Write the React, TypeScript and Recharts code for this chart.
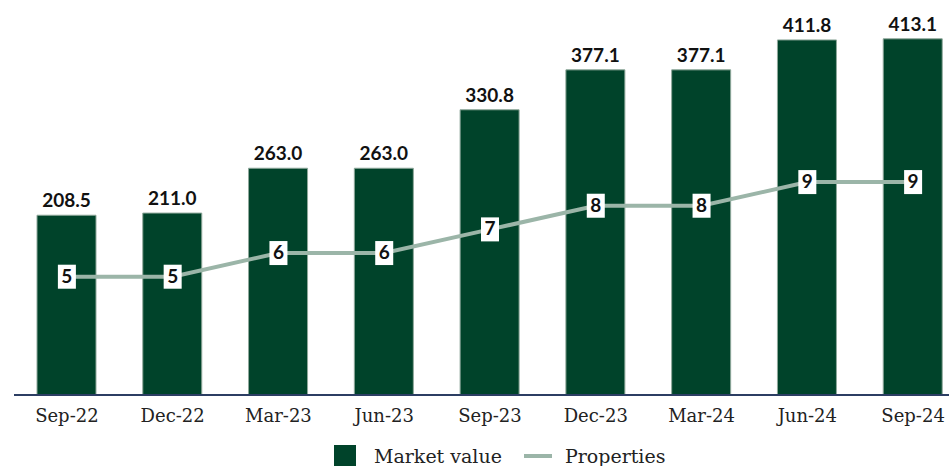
import { ComposedChart, Bar, Line, XAxis, YAxis, LabelList, Legend } from 'recharts';

const quarters = ['Sep-22', 'Dec-22', 'Mar-23', 'Jun-23', 'Sep-23', 'Dec-23', 'Mar-24', 'Jun-24', 'Sep-24'];
const marketValue = [208.5, 211.0, 263.0, 263.0, 330.8, 377.1, 377.1, 411.8, 413.1];
const properties = [5, 5, 6, 6, 7, 8, 8, 9, 9];

const data = quarters.map((q, i) => ({ q, mv: marketValue[i], props: properties[i] }));

const BAR = '#00432A';
const LINE = '#9BB5A8';
const SERIF = '"DejaVu Serif", serif';
const SANS = 'Lato, sans-serif';

function PropLabel(p: any) {
  const { x, y, value } = p;
  return (
    <g>
      <rect x={x - 9} y={y - 12} width={18} height={24} fill="#fff" />
      <text x={x} y={y + 1} textAnchor="middle" dominantBaseline="middle" fontFamily={SANS} fontWeight={700} fontSize={19} fill="#111">
        {value}
      </text>
    </g>
  );
}

function LegendBox() {
  return (
    <div style={{ display: 'flex', alignItems: 'center', paddingLeft: 320, paddingTop: 2, fontFamily: SERIF, fontSize: 19, color: '#222', height: 24 }}>
      <span style={{ width: 22, height: 22, background: BAR, display: 'inline-block', marginRight: 18 }} />
      <span style={{ marginRight: 22 }}>Market value</span>
      <span style={{ width: 28, height: 4, background: LINE, display: 'inline-block', marginRight: 13 }} />
      <span>Properties</span>
    </div>
  );
}

export default function App() {
  return (
    <div style={{ position: 'absolute', left: 0, top: 0, width: 949, height: 466, overflow: 'hidden' }}>
      <ComposedChart width={966} height={470} data={data} margin={{ top: 7, right: 0, left: 14, bottom: 0 }}>
        <XAxis
          dataKey="q"
          height={47}
          tickLine={false}
          axisLine={{ stroke: '#2C3E63', strokeWidth: 2 }}
          tick={{ fill: '#222', fontSize: 18, fontFamily: SERIF }}
          tickMargin={8}
        />
        <YAxis yAxisId="mv" domain={[0, 450]} hide />
        <YAxis yAxisId="props" orientation="right" domain={[0, 16.4]} hide />
        <Legend verticalAlign="bottom" height={28} content={<LegendBox />} />
        <Bar yAxisId="mv" dataKey="mv" fill={BAR} stroke="#8FA89B" strokeWidth={1} barSize={59} isAnimationActive={false}>
          <LabelList
            dataKey="mv"
            position="top"
            offset={8}
            formatter={(v: any) => Number(v).toFixed(1)}
            style={{ fill: '#111', fontFamily: SANS, fontWeight: 700, fontSize: 19 }}
          />
        </Bar>
        <Line yAxisId="props" dataKey="props" stroke={LINE} strokeWidth={4} dot={false} isAnimationActive={false}>
          <LabelList dataKey="props" content={<PropLabel />} />
        </Line>
      </ComposedChart>
    </div>
  );
}
